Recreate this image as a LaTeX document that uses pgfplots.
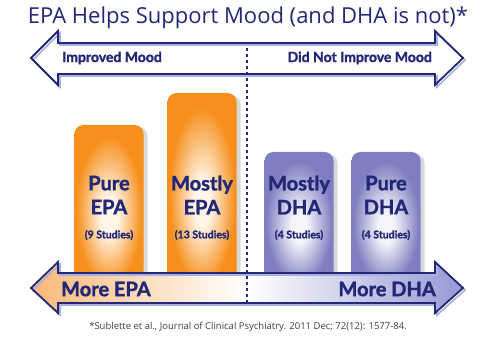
\documentclass[border=0pt]{standalone}
\usepackage{pgfplots}
\pgfplotsset{compat=1.18}
\usepackage{fontspec}
\setmainfont{Lato}[BoldFeatures={FakeBold=1.6}]
\newfontfamily\titlefont{Open Sans}
\definecolor{navy}{RGB}{35,40,118}
\definecolor{orng}{RGB}{246,143,28}
\definecolor{orngl}{RGB}{255,246,232}
\definecolor{lav}{RGB}{126,126,192}
\definecolor{lavl}{RGB}{244,244,251}
\definecolor{arrowor}{RGB}{248,184,120}
\definecolor{arrowlav}{RGB}{152,152,212}
\definecolor{arrowshadow}{RGB}{170,175,225}
\pgfdeclareradialshading{orglow}{\pgfpoint{0bp}{-5bp}}{color(0bp)=(orngl); color(6bp)=(orngl); color(24bp)=(orng); color(50bp)=(orng)}
\pgfdeclareradialshading{lavglow}{\pgfpoint{0bp}{-5bp}}{color(0bp)=(lavl); color(6bp)=(lavl); color(24bp)=(lav); color(50bp)=(lav)}
\begin{document}
\begin{tikzpicture}
\begin{axis}[
  scale only axis, width=500bp, height=353bp,
  xmin=0, xmax=500, ymin=-73, ymax=280,
  hide axis, clip=false,
]
\path (rel axis cs:0,0) rectangle (rel axis cs:1,1);
% top arrow: fill, shadow outline, outline
\addplot[draw=none, fill=white] coordinates {(31,222) (58,249) (58,237) (435,237) (435,249) (463,222) (435,195) (435,206) (58,206) (58,195)} -- cycle;
\addplot[draw=arrowshadow, line width=1.6bp, line join=miter] coordinates {(33,220) (60,247) (60,235) (437,235) (437,247) (465,220) (437,193) (437,204) (60,204) (60,193)} -- cycle;
\addplot[draw=navy, line width=1.8bp, line join=miter] coordinates {(31,222) (58,249) (58,237) (435,237) (435,249) (463,222) (435,195) (435,206) (58,206) (58,195)} -- cycle;
% shadows of bars
\addplot[ybar, bar width=69, bar shift=4, fill=black!15, draw=none, rounded corners=9bp] coordinates {(109,153) (202,185) (299,126) (386,126)};
% bars
\addplot[ybar, bar width=69, bar shift=0, draw=none, rounded corners=9bp, shading=orglow] coordinates {(109,155)};
\addplot[ybar, bar width=69, bar shift=0, draw=none, rounded corners=9bp, shading=orglow] coordinates {(202,187)};
\addplot[ybar, bar width=69, bar shift=0, draw=none, rounded corners=9bp, shading=lavglow] coordinates {(299,128)};
\addplot[ybar, bar width=69, bar shift=0, draw=none, rounded corners=9bp, shading=lavglow] coordinates {(386,128)};
% bottom arrow
\addplot[draw=none, left color=arrowor, right color=arrowlav, middle color=white] coordinates {(31,-8) (58,18) (58,7) (435,7) (435,18) (463,-8) (435,-33) (435,-23) (58,-23) (58,-33)} -- cycle;
\addplot[draw=arrowshadow, line width=1.6bp, line join=miter] coordinates {(33,-10) (60,16) (60,5) (437,5) (437,16) (465,-10) (437,-35) (437,-25) (60,-25) (60,-35)} -- cycle;
\addplot[draw=navy, line width=1.8bp, line join=miter] coordinates {(31,-8) (58,18) (58,7) (435,7) (435,18) (463,-8) (435,-33) (435,-23) (58,-23) (58,-33)} -- cycle;
% divider
\addplot[navy, line width=2bp, dash pattern=on 3bp off 3bp] coordinates {(247,232) (247,-23)};
% texts
\node[inner sep=0pt, font=\titlefont\fontsize{22bp}{26bp}\selectfont, text=navy] at (axis cs:248,262) {EPA Helps Support Mood (and DHA is not)*};
\node[inner sep=0pt, anchor=west, font=\bfseries\fontsize{14bp}{16bp}\selectfont, text=navy] at (axis cs:62,222) {Improved Mood};
\node[inner sep=0pt, anchor=east, font=\bfseries\fontsize{14bp}{16bp}\selectfont, text=navy] at (axis cs:432,222) {Did Not Improve Mood};
\node[inner sep=0pt, anchor=west, font=\bfseries\fontsize{20bp}{24bp}\selectfont, text=navy] at (axis cs:61,-9) {More EPA};
\node[inner sep=0pt, anchor=east, font=\bfseries\fontsize{20bp}{24bp}\selectfont, text=navy] at (axis cs:436,-9) {More DHA};
\node[align=center, font=\bfseries\fontsize{20bp}{24bp}\selectfont, text=navy] at (axis cs:109,85) {Pure\\EPA};
\node[align=center, font=\bfseries\fontsize{20bp}{24bp}\selectfont, text=navy] at (axis cs:202,85) {Mostly\\EPA};
\node[align=center, font=\bfseries\fontsize{20bp}{24bp}\selectfont, text=navy] at (axis cs:299,85) {Mostly\\DHA};
\node[align=center, font=\bfseries\fontsize{20bp}{24bp}\selectfont, text=navy] at (axis cs:386,85) {Pure\\DHA};
\node[font=\bfseries\fontsize{10.5bp}{12bp}\selectfont, text=navy] at (axis cs:109,45) {(9 Studies)};
\node[font=\bfseries\fontsize{10.5bp}{12bp}\selectfont, text=navy] at (axis cs:202,45) {(13 Studies)};
\node[font=\bfseries\fontsize{10.5bp}{12bp}\selectfont, text=navy] at (axis cs:299,45) {(4 Studies)};
\node[font=\bfseries\fontsize{10.5bp}{12bp}\selectfont, text=navy] at (axis cs:386,45) {(4 Studies)};
\node[font=\titlefont\fontsize{9.5bp}{11bp}\selectfont, text=black!75] at (axis cs:248,-47) {*Sublette et al., Journal of Clinical Psychiatry. 2011 Dec; 72(12): 1577-84.};
\end{axis}
\end{tikzpicture}
\end{document}
